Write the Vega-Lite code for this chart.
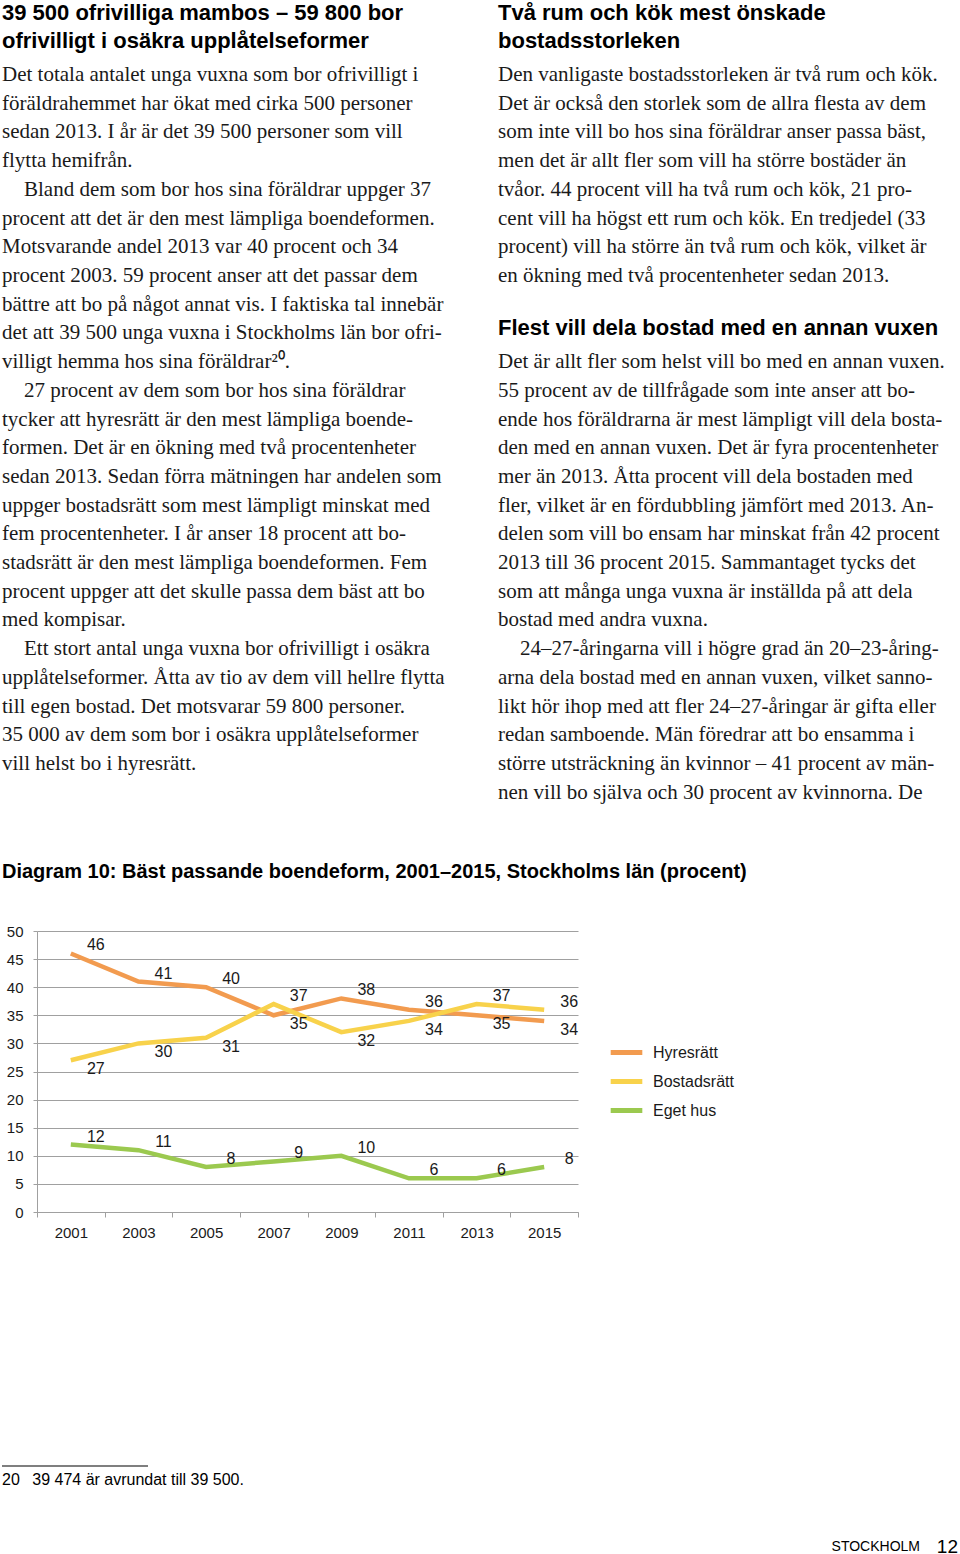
{
  "$schema": "https://vega.github.io/schema/vega-lite/v6.json",
  "background": "white",
  "padding": 0,
  "spacing": 0,
  "config": {"view": {"stroke": null}},
  "vconcat": [
    {
      "width": 923,
      "height": 862,
      "data": {"values": [
        {"spalt": "vänster", "rad": 1, "typ": "rubrik", "text": "39 500 ofrivilliga mambos – 59 800 bor"},
        {"spalt": "vänster", "rad": 2, "typ": "rubrik", "text": "ofrivilligt i osäkra upplåtelseformer"},
        {"spalt": "vänster", "rad": 3, "typ": "text", "text": "Det totala antalet unga vuxna som bor ofrivilligt i"},
        {"spalt": "vänster", "rad": 4, "typ": "text", "text": "föräldrahemmet har ökat med cirka 500 personer"},
        {"spalt": "vänster", "rad": 5, "typ": "text", "text": "sedan 2013. I år är det 39 500 personer som vill"},
        {"spalt": "vänster", "rad": 6, "typ": "text", "text": "flytta hemifrån."},
        {"spalt": "vänster", "rad": 7, "typ": "stycke", "text": "Bland dem som bor hos sina föräldrar uppger 37"},
        {"spalt": "vänster", "rad": 8, "typ": "text", "text": "procent att det är den mest lämpliga boendeformen."},
        {"spalt": "vänster", "rad": 9, "typ": "text", "text": "Motsvarande andel 2013 var 40 procent och 34"},
        {"spalt": "vänster", "rad": 10, "typ": "text", "text": "procent 2003. 59 procent anser att det passar dem"},
        {"spalt": "vänster", "rad": 11, "typ": "text", "text": "bättre att bo på något annat vis. I faktiska tal innebär"},
        {"spalt": "vänster", "rad": 12, "typ": "text", "text": "det att 39 500 unga vuxna i Stockholms län bor ofri-"},
        {"spalt": "vänster", "rad": 13, "typ": "text", "text": "villigt hemma hos sina föräldrar²⁰."},
        {"spalt": "vänster", "rad": 14, "typ": "stycke", "text": "27 procent av dem som bor hos sina föräldrar"},
        {"spalt": "vänster", "rad": 15, "typ": "text", "text": "tycker att hyresrätt är den mest lämpliga boende-"},
        {"spalt": "vänster", "rad": 16, "typ": "text", "text": "formen. Det är en ökning med två procentenheter"},
        {"spalt": "vänster", "rad": 17, "typ": "text", "text": "sedan 2013. Sedan förra mätningen har andelen som"},
        {"spalt": "vänster", "rad": 18, "typ": "text", "text": "uppger bostadsrätt som mest lämpligt minskat med"},
        {"spalt": "vänster", "rad": 19, "typ": "text", "text": "fem procentenheter. I år anser 18 procent att bo-"},
        {"spalt": "vänster", "rad": 20, "typ": "text", "text": "stadsrätt är den mest lämpliga boendeformen. Fem"},
        {"spalt": "vänster", "rad": 21, "typ": "text", "text": "procent uppger att det skulle passa dem bäst att bo"},
        {"spalt": "vänster", "rad": 22, "typ": "text", "text": "med kompisar."},
        {"spalt": "vänster", "rad": 23, "typ": "stycke", "text": "Ett stort antal unga vuxna bor ofrivilligt i osäkra"},
        {"spalt": "vänster", "rad": 24, "typ": "text", "text": "upplåtelseformer. Åtta av tio av dem vill hellre flytta"},
        {"spalt": "vänster", "rad": 25, "typ": "text", "text": "till egen bostad. Det motsvarar 59 800 personer."},
        {"spalt": "vänster", "rad": 26, "typ": "text", "text": "35 000 av dem som bor i osäkra upplåtelseformer"},
        {"spalt": "vänster", "rad": 27, "typ": "text", "text": "vill helst bo i hyresrätt."},
        {"spalt": "höger", "rad": 1, "typ": "rubrik", "text": "Två rum och kök mest önskade"},
        {"spalt": "höger", "rad": 2, "typ": "rubrik", "text": "bostadsstorleken"},
        {"spalt": "höger", "rad": 3, "typ": "text", "text": "Den vanligaste bostadsstorleken är två rum och kök."},
        {"spalt": "höger", "rad": 4, "typ": "text", "text": "Det är också den storlek som de allra flesta av dem"},
        {"spalt": "höger", "rad": 5, "typ": "text", "text": "som inte vill bo hos sina föräldrar anser passa bäst,"},
        {"spalt": "höger", "rad": 6, "typ": "text", "text": "men det är allt fler som vill ha större bostäder än"},
        {"spalt": "höger", "rad": 7, "typ": "text", "text": "tvåor. 44 procent vill ha två rum och kök, 21 pro-"},
        {"spalt": "höger", "rad": 8, "typ": "text", "text": "cent vill ha högst ett rum och kök. En tredjedel (33"},
        {"spalt": "höger", "rad": 9, "typ": "text", "text": "procent) vill ha större än två rum och kök, vilket är"},
        {"spalt": "höger", "rad": 10, "typ": "text", "text": "en ökning med två procentenheter sedan 2013."},
        {"spalt": "höger", "rad": 12, "typ": "rubrik", "text": "Flest vill dela bostad med en annan vuxen"},
        {"spalt": "höger", "rad": 13, "typ": "text", "text": "Det är allt fler som helst vill bo med en annan vuxen."},
        {"spalt": "höger", "rad": 14, "typ": "text", "text": "55 procent av de tillfrågade som inte anser att bo-"},
        {"spalt": "höger", "rad": 15, "typ": "text", "text": "ende hos föräldrarna är mest lämpligt vill dela bosta-"},
        {"spalt": "höger", "rad": 16, "typ": "text", "text": "den med en annan vuxen. Det är fyra procentenheter"},
        {"spalt": "höger", "rad": 17, "typ": "text", "text": "mer än 2013. Åtta procent vill dela bostaden med"},
        {"spalt": "höger", "rad": 18, "typ": "text", "text": "fler, vilket är en fördubbling jämfört med 2013. An-"},
        {"spalt": "höger", "rad": 19, "typ": "text", "text": "delen som vill bo ensam har minskat från 42 procent"},
        {"spalt": "höger", "rad": 20, "typ": "text", "text": "2013 till 36 procent 2015. Sammantaget tycks det"},
        {"spalt": "höger", "rad": 21, "typ": "text", "text": "som att många unga vuxna är inställda på att dela"},
        {"spalt": "höger", "rad": 22, "typ": "text", "text": "bostad med andra vuxna."},
        {"spalt": "höger", "rad": 23, "typ": "stycke", "text": "24–27-åringarna vill i högre grad än 20–23-åring-"},
        {"spalt": "höger", "rad": 24, "typ": "text", "text": "arna dela bostad med en annan vuxen, vilket sanno-"},
        {"spalt": "höger", "rad": 25, "typ": "text", "text": "likt hör ihop med att fler 24–27-åringar är gifta eller"},
        {"spalt": "höger", "rad": 26, "typ": "text", "text": "redan samboende. Män föredrar att bo ensamma i"},
        {"spalt": "höger", "rad": 27, "typ": "text", "text": "större utsträckning än kvinnor – 41 procent av män-"},
        {"spalt": "höger", "rad": 28, "typ": "text", "text": "nen vill bo själva och 30 procent av kvinnorna. De"}
      ]},
      "encoding": {
        "x": {"field": "spalt", "type": "nominal", "scale": {"type": "point", "domain": ["vänster", "höger"], "range": [-35, 461], "padding": 0}, "axis": null},
        "y": {"field": "rad", "type": "quantitative", "scale": {"domain": [0.179, 30.203], "reverse": true, "nice": false, "zero": false}, "axis": null},
        "text": {"field": "text"}
      },
      "layer": [
        {
          "transform": [{"filter": "datum.typ === 'rubrik'"}],
          "mark": {"type": "text", "align": "left", "baseline": "alphabetic", "font": "Liberation Sans", "fontWeight": "bold", "fontSize": 22, "dy": -4, "color": "#000000"}
        },
        {
          "transform": [{"filter": "datum.typ === 'text'"}],
          "mark": {"type": "text", "align": "left", "baseline": "alphabetic", "font": "Liberation Serif", "fontSize": 21, "color": "#1a1a1a"}
        },
        {
          "transform": [{"filter": "datum.typ === 'stycke'"}],
          "mark": {"type": "text", "align": "left", "baseline": "alphabetic", "dx": 22, "font": "Liberation Serif", "fontSize": 21, "color": "#1a1a1a"}
        }
      ]
    },
    {
      "width": 541,
      "height": 281,
      "title": {"text": "Diagram 10: Bäst passande boendeform, 2001–2015, Stockholms län (procent)", "anchor": "start", "frame": "bounds", "font": "Liberation Sans", "fontSize": 20, "fontWeight": "bold", "color": "#000000", "offset": 42, "dx": 2},
      "data": {"values": [
        {"serie": "Hyresrätt", "år": "2001", "andel": 46},
        {"serie": "Hyresrätt", "år": "2003", "andel": 41},
        {"serie": "Hyresrätt", "år": "2005", "andel": 40},
        {"serie": "Hyresrätt", "år": "2007", "andel": 35},
        {"serie": "Hyresrätt", "år": "2009", "andel": 38},
        {"serie": "Hyresrätt", "år": "2011", "andel": 36},
        {"serie": "Hyresrätt", "år": "2013", "andel": 35},
        {"serie": "Hyresrätt", "år": "2015", "andel": 34},
        {"serie": "Bostadsrätt", "år": "2001", "andel": 27},
        {"serie": "Bostadsrätt", "år": "2003", "andel": 30},
        {"serie": "Bostadsrätt", "år": "2005", "andel": 31},
        {"serie": "Bostadsrätt", "år": "2007", "andel": 37},
        {"serie": "Bostadsrätt", "år": "2009", "andel": 32},
        {"serie": "Bostadsrätt", "år": "2011", "andel": 34},
        {"serie": "Bostadsrätt", "år": "2013", "andel": 37},
        {"serie": "Bostadsrätt", "år": "2015", "andel": 36},
        {"serie": "Eget hus", "år": "2001", "andel": 12},
        {"serie": "Eget hus", "år": "2003", "andel": 11},
        {"serie": "Eget hus", "år": "2005", "andel": 8},
        {"serie": "Eget hus", "år": "2007", "andel": 9},
        {"serie": "Eget hus", "år": "2009", "andel": 10},
        {"serie": "Eget hus", "år": "2011", "andel": 6},
        {"serie": "Eget hus", "år": "2013", "andel": 6},
        {"serie": "Eget hus", "år": "2015", "andel": 8}
      ]},
      "encoding": {
        "x": {"field": "år", "type": "ordinal", "scale": {"type": "band", "paddingInner": 0, "paddingOuter": 0},
          "axis": {"title": null, "labelAngle": 0, "labelFont": "Liberation Sans", "labelFontSize": 15, "labelColor": "#1a1a1a", "tickBand": "extent", "tickColor": "#a0a0a0", "tickSize": 5, "domainColor": "#a0a0a0", "labelPadding": 8, "minExtent": 253, "grid": false}},
        "y": {"field": "andel", "type": "quantitative", "scale": {"domain": [0, 50], "nice": false},
          "axis": {"title": null, "values": [0, 5, 10, 15, 20, 25, 30, 35, 40, 45, 50], "labelFont": "Liberation Sans", "labelFontSize": 15, "labelColor": "#1a1a1a", "tickColor": "#a0a0a0", "tickSize": 4, "domainColor": "#a0a0a0", "gridColor": "#a0a0a0", "grid": true, "labelPadding": 10, "minExtent": 37}}
      },
      "layer": [
        {
          "mark": {"type": "line", "strokeWidth": 4.5},
          "encoding": {
            "color": {"field": "serie", "type": "nominal",
              "scale": {"domain": ["Hyresrätt", "Bostadsrätt", "Eget hus"], "range": ["#F29B4F", "#F8D24B", "#9BC94F"]},
              "legend": {"title": null, "orient": "none", "legendX": 571, "legendY": 1034, "symbolType": "stroke", "symbolStrokeWidth": 5, "symbolSize": 1000, "labelFont": "Liberation Sans", "labelFontSize": 16, "labelColor": "#1a1a1a", "rowPadding": 0, "labelOffset": 8}}
          }
        },
        {
          "transform": [
            {"joinaggregate": [{"op": "max", "field": "andel", "as": "högst"}], "groupby": ["år"]},
            {"filter": "datum.andel === datum['högst'] || datum.serie === 'Eget hus'"}
          ],
          "mark": {"type": "text", "dx": 25, "dy": -8, "align": "center", "baseline": "middle", "font": "Liberation Sans", "fontSize": 16, "color": "#1a1a1a"},
          "encoding": {"text": {"field": "andel", "type": "quantitative"}}
        },
        {
          "transform": [
            {"joinaggregate": [{"op": "max", "field": "andel", "as": "högst"}], "groupby": ["år"]},
            {"filter": "!(datum.andel === datum['högst'] || datum.serie === 'Eget hus')"}
          ],
          "mark": {"type": "text", "dx": 25, "dy": 9, "align": "center", "baseline": "middle", "font": "Liberation Sans", "fontSize": 16, "color": "#1a1a1a"},
          "encoding": {"text": {"field": "andel", "type": "quantitative"}}
        }
      ]
    },
    {
      "width": 923,
      "height": 67,
      "data": {"values": [
        {"del": "linje", "spalt": "vänster", "rad": "fotnot", "text": ""},
        {"del": "fotnot", "spalt": "vänster", "rad": "fotnot", "text": "20\u2002 39 474 är avrundat till 39 500."},
        {"del": "ort", "spalt": "höger", "rad": "sidfot", "text": "STOCKHOLM"},
        {"del": "sida", "spalt": "höger", "rad": "sidfot", "text": "12"}
      ]},
      "encoding": {
        "x": {"field": "spalt", "type": "nominal", "scale": {"type": "point", "domain": ["vänster", "höger"], "range": [-35, 921], "padding": 0}, "axis": null},
        "y": {"field": "rad", "type": "nominal", "scale": {"type": "point", "domain": ["fotnot", "sidfot"], "padding": 0}, "axis": null}
      },
      "layer": [
        {
          "transform": [{"filter": "datum.del === 'linje'"}],
          "mark": {"type": "tick", "orient": "horizontal", "size": 146, "thickness": 1, "color": "#000000", "opacity": 1, "xOffset": 73, "yOffset": -14}
        },
        {
          "transform": [{"filter": "datum.del === 'fotnot'"}],
          "mark": {"type": "text", "align": "left", "baseline": "middle", "font": "Liberation Sans", "fontSize": 16, "color": "#000000"},
          "encoding": {"text": {"field": "text"}}
        },
        {
          "transform": [{"filter": "datum.del === 'ort'"}],
          "mark": {"type": "text", "align": "right", "baseline": "middle", "dx": -38, "font": "Liberation Sans", "fontSize": 14, "color": "#000000"},
          "encoding": {"text": {"field": "text"}}
        },
        {
          "transform": [{"filter": "datum.del === 'sida'"}],
          "mark": {"type": "text", "align": "right", "baseline": "middle", "font": "Liberation Sans", "fontSize": 19, "color": "#000000"},
          "encoding": {"text": {"field": "text"}}
        }
      ]
    }
  ]
}
